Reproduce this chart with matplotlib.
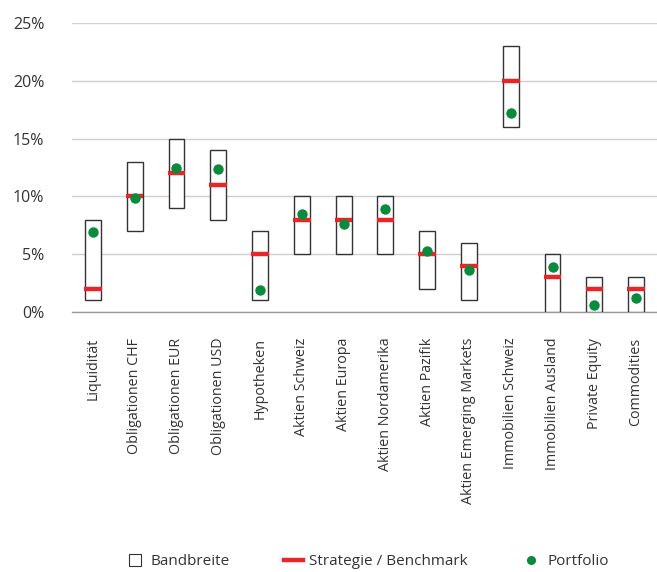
import matplotlib
matplotlib.use("Agg")
import matplotlib.pyplot as plt
from matplotlib.lines import Line2D

plt.rcParams['font.family'] = ['Open Sans', 'DejaVu Sans']

# asset classes and allocation ranges (in %)
categories = ["Liquidität", "Obligationen CHF", "Obligationen EUR", "Obligationen USD",
              "Hypotheken", "Aktien Schweiz", "Aktien Europa", "Aktien Nordamerika",
              "Aktien Pazifik", "Aktien Emerging Markets", "Immobilien Schweiz",
              "Immobilien Ausland", "Private Equity", "Commodities"]
band_low = [1, 7, 9, 8, 1, 5, 5, 5, 2, 1, 16, 0, 0, 0]
band_high = [8, 13, 15, 14, 7, 10, 10, 10, 7, 6, 23, 5, 3, 3]
strategy = [2, 10, 12, 11, 5, 8, 8, 8, 5, 4, 20, 3, 2, 2]
portfolio = [6.9, 9.9, 12.5, 12.4, 1.9, 8.5, 7.6, 8.9, 5.3, 3.6, 17.2, 3.9, 0.6, 1.2]
yticks = [0, 5, 10, 15, 20, 25]

text_color = '#333333'
red = '#E8262A'
green = '#0A8A3C'

fig = plt.figure(figsize=(6.57, 5.72), dpi=100)
ax = fig.add_axes([0.1096, 0.4545, 0.8904, 0.5053])

x = list(range(len(categories)))
heights = [h - l for l, h in zip(band_low, band_high)]

# band boxes, strategy bars and portfolio dots
ax.bar(x, heights, bottom=band_low, width=0.38, facecolor='white',
       edgecolor='#333333', linewidth=1.0, zorder=3)
ax.hlines(strategy, [i - 0.21 for i in x], [i + 0.21 for i in x],
          colors=red, linewidth=3.2, zorder=4)
ax.plot(x, portfolio, 'o', color=green, markersize=7.5, markeredgewidth=0, zorder=5)

ax.set_xlim(-0.5, len(categories) - 0.5)
ax.set_ylim(0, 25)
ax.set_yticks(yticks)
ax.set_yticklabels([f"{v}%" for v in yticks], fontsize=11.5, color=text_color)
ax.set_xticks(x)
ax.set_xticklabels(categories, rotation=90, ha='center', va='top',
                   fontsize=10.3, color=text_color)
ax.tick_params(axis='y', length=0, pad=20)
ax.tick_params(axis='x', length=0, pad=18.5)

ax.grid(axis='y', color='#d0d0d0', linewidth=1.0, zorder=0)
ax.set_axisbelow(True)
for side in ['top', 'right', 'left']:
    ax.spines[side].set_visible(False)
ax.spines['bottom'].set_color('#999999')
ax.spines['bottom'].set_linewidth(1.0)

handles = [
    Line2D([], [], marker='s', markersize=9, markerfacecolor='white',
           markeredgecolor='#333333', markeredgewidth=0.8, linestyle='none'),
    Line2D([], [], color=red, linewidth=3.2),
    Line2D([], [], marker='o', markersize=5.5, color=green, linestyle='none'),
]
labels = ["Bandbreite", "Strategie / Benchmark", "Portfolio"]
fig.legend(handles, labels, loc='center', bbox_to_anchor=(0.559, 0.018), ncol=3,
           frameon=False, fontsize=11, handlelength=1.2, handletextpad=0.45,
           columnspacing=3.55, labelcolor=text_color)

fig.savefig("out.png", dpi=100)
